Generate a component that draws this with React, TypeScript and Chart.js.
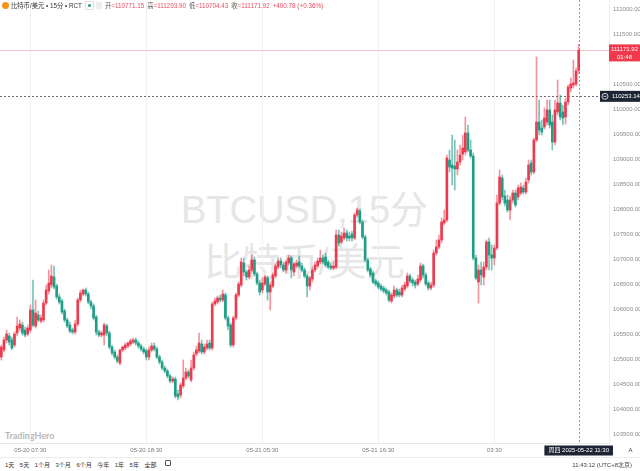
import React, { useEffect, useRef } from "react";
import { Chart, registerables } from "chart.js";

Chart.register(...registerables);

// ---------- data (BTC/USD, 15-minute candles) ----------
const startUtc = Date.UTC(2025, 4, 20, 4, 45); // first candle 05-20 04:45
const stepMinutes = 15;
const emptySlots = 11; // right-side room after last candle

const opens = [
  105040, 105180, 105380, 105460, 105380, 105280, 105520, 105620, 105680, 105580,
  105500, 105580, 105980, 105660, 105880, 105760, 105780, 106120, 106360, 106480,
  106640, 106460, 106240, 106160, 105960, 105780, 105680, 105580, 105540, 105700,
  106180, 106300, 106380, 106300, 106140, 106060, 105840, 105540, 105480, 105480,
  105660, 105520, 105240, 105140, 105040, 104920, 105180, 105220, 105260, 105300,
  105340, 105380, 105320, 105260, 105200, 105160, 105040, 105180, 105260, 105200,
  105040, 104940, 104820, 104760, 104660, 104560, 104600, 104300, 104280, 104460,
  104620, 104740, 104580, 104820, 105100, 105160, 105300, 105140, 105220, 105320,
  105220, 106100, 106140, 106220, 106180, 106280, 105820, 105680, 105280, 105820,
  106280, 106480, 106920, 106740, 106640, 106780, 106980, 106700, 106520, 106380,
  106500, 106620, 106340, 106460, 106660, 106840, 106960, 106880, 106780, 106920,
  107020, 106740, 106860, 106940, 106860, 106780, 106660, 106460, 106600, 106780,
  106860, 106940, 107020, 107040, 106940, 106860, 106820, 106840, 107480, 107340,
  107420, 107520, 107460, 107500, 107420, 107880, 107960, 107740, 107440, 106980,
  106800, 106720, 106560, 106520, 106460, 106420, 106380, 106340, 106160, 106260,
  106380, 106340, 106280, 106400, 106460, 106660, 106580, 106540, 106500, 106580,
  106860, 106680, 106520, 106420, 106480, 107120, 107240, 107380, 107720, 107780,
  108980, 108880, 108860, 108800, 108940, 109100, 109140, 109520, 109180, 109060,
  107020, 106540, 106780, 106640, 106840, 107340, 107080, 107020, 107220, 108120,
  108620, 108260, 108180, 107980, 108180, 108320, 108240, 108320, 108420, 108340,
  108580, 108920, 108740, 109380, 109740, 109620, 109640, 109740, 109980, 109740,
  109340, 109940, 110120, 109940, 109840, 110140, 110420, 110480, 110500, 110771.15,
];

const highs = [
  105280, 105440, 105580, 105520, 105440, 105540, 105840, 105780, 105740, 105640,
  105680, 106080, 106580, 106180, 105960, 105880, 106180, 106480, 106780, 106880,
  106860, 106500, 106300, 106200, 106000, 105820, 105740, 105620, 105780, 106220,
  106380, 106400, 106420, 106340, 106180, 106100, 105880, 105580, 105560, 105720,
  105700, 105560, 105280, 105180, 105080, 105200, 105260, 105320, 105340, 105400,
  105420, 105420, 105360, 105300, 105240, 105200, 105240, 105320, 105320, 105240,
  105080, 104980, 104860, 104800, 104700, 104640, 104640, 104380, 104520, 104980,
  104820, 104780, 104980, 105140, 105260, 105520, 105380, 105300, 105380, 105380,
  106140, 106220, 106260, 106280, 106380, 106320, 105860, 105720, 105860, 106320,
  106540, 107020, 107020, 106780, 106860, 107080, 107040, 106740, 106580, 106620,
  106680, 106660, 106540, 106720, 106900, 107020, 107020, 106940, 106980, 107080,
  107060, 106940, 106980, 107060, 106920, 106820, 106700, 106660, 106840, 106940,
  107020, 107180, 107080, 107120, 106980, 106920, 106940, 107580, 107580, 107540,
  107620, 107580, 107540, 107560, 107920, 108020, 108000, 107780, 107480, 107020,
  106840, 106760, 106600, 106560, 106500, 106460, 106420, 106380, 106320, 106460,
  106420, 106400, 106480, 106540, 106720, 106700, 106620, 106580, 106680, 106920,
  106900, 106720, 106560, 106540, 107180, 107380, 107480, 107820, 107980, 109080,
  109180, 109480, 109380, 109180, 109280, 109480, 109840, 109680, 109380, 109120,
  107080, 106880, 106940, 106940, 107380, 107420, 107280, 107280, 108280, 108780,
  108680, 108380, 108280, 108260, 108380, 108380, 108480, 108520, 108480, 108620,
  108980, 108980, 109420, 111040, 110180, 109780, 110020, 110180, 110180, 109880,
  110180, 110580, 110280, 110080, 110220, 110480, 110620, 110980, 110820, 111293.9,
];

const lows = [
  104980, 105140, 105320, 105280, 105180, 105240, 105460, 105560, 105480, 105440,
  105460, 105540, 105640, 105620, 105740, 105720, 105740, 106080, 106300, 106420,
  106400, 106200, 106100, 105900, 105740, 105620, 105520, 105500, 105500, 105660,
  106140, 106260, 106260, 106100, 106000, 105780, 105480, 105440, 105440, 105280,
  105460, 105200, 105080, 105000, 104920, 104880, 105140, 105180, 105220, 105260,
  105300, 105280, 105220, 105160, 105100, 104980, 104980, 105140, 105160, 105000,
  104900, 104780, 104720, 104620, 104520, 104520, 104220, 104180, 104220, 104420,
  104580, 104620, 104540, 104780, 105060, 105120, 105100, 105100, 105180, 105180,
  105180, 106060, 106100, 106140, 106140, 105780, 105580, 105240, 105240, 105780,
  106240, 106440, 106660, 106580, 106600, 106740, 106660, 106480, 106280, 106320,
  106460, 106180, 105980, 106420, 106620, 106800, 106820, 106740, 106720, 106880,
  106620, 106660, 106820, 106820, 106740, 106620, 106240, 106380, 106540, 106740,
  106820, 106900, 106900, 106840, 106800, 106780, 106780, 106800, 107260, 107300,
  107380, 107360, 107360, 107360, 107380, 107840, 107700, 107400, 106940, 106740,
  106640, 106500, 106460, 106400, 106360, 106320, 106280, 106140, 106120, 106220,
  106240, 106240, 106240, 106360, 106420, 106520, 106460, 106420, 106460, 106540,
  106620, 106460, 106380, 106380, 106440, 107080, 107200, 107320, 107680, 107740,
  108740, 108480, 108380, 108680, 108880, 108980, 109080, 109140, 109020, 106980,
  106580, 106120, 106480, 106480, 106780, 106780, 106780, 106880, 107180, 108080,
  108180, 108060, 107940, 107780, 108120, 108040, 108180, 108280, 108300, 108300,
  108520, 108680, 108700, 109340, 109480, 109480, 109600, 109680, 109620, 109180,
  109280, 109880, 109780, 109680, 109700, 110080, 110340, 110420, 110460, 110704.43,
];

const closes = [
  105240, 105380, 105500, 105340, 105220, 105500, 105660, 105700, 105520, 105480,
  105620, 105980, 105680, 105920, 105780, 105820, 106120, 106380, 106520, 106660,
  106440, 106240, 106140, 105940, 105780, 105660, 105560, 105540, 105700, 106180,
  106320, 106380, 106300, 106140, 106060, 105820, 105540, 105480, 105520, 105680,
  105520, 105240, 105120, 105040, 104960, 105180, 105240, 105280, 105320, 105360,
  105380, 105320, 105260, 105200, 105140, 105040, 105180, 105260, 105200, 105040,
  104940, 104820, 104760, 104660, 104560, 104600, 104260, 104240, 104480, 104620,
  104740, 104660, 104820, 105080, 105180, 105320, 105140, 105240, 105300, 105220,
  106100, 106160, 106220, 106180, 106300, 105820, 105660, 105280, 105820, 106280,
  106500, 106940, 106740, 106640, 106780, 106980, 106700, 106520, 106340, 106520,
  106640, 106340, 106480, 106680, 106860, 106960, 106880, 106780, 106940, 107020,
  106780, 106900, 106920, 106860, 106780, 106660, 106460, 106620, 106780, 106880,
  106960, 107020, 106940, 106880, 106840, 106820, 106860, 107480, 107320, 107460,
  107520, 107420, 107420, 107420, 107880, 107980, 107740, 107440, 106980, 106780,
  106680, 106540, 106500, 106440, 106400, 106360, 106320, 106180, 106280, 106380,
  106280, 106280, 106420, 106480, 106660, 106560, 106520, 106480, 106600, 106860,
  106680, 106500, 106420, 106480, 107120, 107240, 107380, 107740, 107780, 109020,
  108840, 108820, 108800, 108940, 109080, 109220, 109520, 109180, 109060, 107020,
  106620, 106780, 106680, 106840, 107340, 107080, 107020, 107220, 108120, 108640,
  108240, 108120, 107980, 108180, 108320, 108080, 108420, 108440, 108340, 108540,
  108880, 108740, 109380, 109740, 109580, 109540, 109820, 109980, 109680, 109340,
  109980, 110120, 109840, 109820, 110140, 110440, 110500, 110520, 110760, 111171.92,
];

// axis and reference values
const yMin = 103320;
const yMax = 112180;
const yTicks = [
  103500, 104000, 104500, 105000, 105500, 106000, 106500, 107000, 107500,
  108000, 108500, 109000, 109500, 110000, 110500, 111000, 111500, 112000,
];
const refPrice = 110253.14;
const xTickTimes = ["05-20 07:30", "05-20 18:30", "05-21 05:30", "05-21 16:30", "05-22 03:30"];
const xTickLabels = ["05-20 07:30", "05-20 18:30", "05-21 05:30", "05-21 16:30", "03:30"];
const countdownText = "01:48";
const crosshairDateText = "周四 2025-05-22 11:30";

const headerTitle = "比特币/美元 • 15分 • RCT";
const ohlcLabels = ["开", "高", "低", "收"];
const changeText = "+400.78 (+0.36%)";
const rangeButtons = ["1天", "5天", "1个月", "3个月", "6个月", "今年", "1年", "5年", "全部"];
const clockText = "11:43:12 (UTC+8北京)";

const UP = "#ec3b4f";
const DOWN = "#1f9d86";
const UP_WICK = "rgba(236,59,79,0.55)";
const DOWN_WICK = "rgba(31,157,134,0.6)";
const FONT = "'Liberation Sans', 'Noto Sans CJK SC', Arial, sans-serif";

function pad(n: number) {
  return n < 10 ? "0" + n : "" + n;
}
function fmtTime(ms: number) {
  const d = new Date(ms);
  return `${pad(d.getUTCMonth() + 1)}-${pad(d.getUTCDate())} ${pad(d.getUTCHours())}:${pad(d.getUTCMinutes())}`;
}

export default function App() {
  const canvasRef = useRef<HTMLCanvasElement | null>(null);

  useEffect(() => {
    const canvas = canvasRef.current;
    if (!canvas) return;
    const n = closes.length;
    const total = n + emptySlots;
    const labels: string[] = [];
    for (let i = 0; i < total; i++) labels.push(fmtTime(startUtc + i * stepMinutes * 60000));
    const tickIdx = xTickTimes.map((t) => labels.indexOf(t));

    const bodyData: any[] = [];
    const wickData: any[] = [];
    const bodyColors: string[] = [];
    const wickColors: string[] = [];
    for (let i = 0; i < total; i++) {
      if (i < n) {
        bodyData.push([opens[i], closes[i]]);
        wickData.push([lows[i], highs[i]]);
        const up = closes[i] >= opens[i];
        bodyColors.push(up ? UP : DOWN);
        wickColors.push(up ? UP_WICK : DOWN_WICK);
      } else {
        bodyData.push(null);
        wickData.push(null);
        bodyColors.push(UP);
        wickColors.push(UP_WICK);
      }
    }
    const lastIdx = n - 1;
    const lastClose = closes[lastIdx];

    const overlay = {
      id: "overlay",
      beforeDatasetsDraw(chart: any) {
        const { ctx, chartArea, scales } = chart;
        const y = scales.y;
        const x = scales.x;
        ctx.save();
        // current price line
        const py = Math.round(y.getPixelForValue(lastClose)) + 0.5;
        ctx.strokeStyle = "#f3c3c8";
        ctx.lineWidth = 1;
        ctx.beginPath();
        ctx.moveTo(chartArea.left, py);
        ctx.lineTo(chartArea.right, py);
        ctx.stroke();
        // reference dashed line
        const ry = Math.round(y.getPixelForValue(refPrice)) + 0.5;
        ctx.strokeStyle = "#6b6b6b";
        ctx.setLineDash([2, 2]);
        ctx.beginPath();
        ctx.moveTo(chartArea.left, ry);
        ctx.lineTo(chartArea.right, ry);
        ctx.stroke();
        // vertical crosshair
        const cx = Math.round(x.getPixelForValue(lastIdx)) + 0.5;
        ctx.strokeStyle = "#9a9a9a";
        ctx.beginPath();
        ctx.moveTo(cx, chartArea.top);
        ctx.lineTo(cx, chartArea.bottom);
        ctx.stroke();
        ctx.restore();
      },
      afterDraw(chart: any) {
        const { ctx, chartArea, scales, width } = chart;
        const y = scales.y;
        const x = scales.x;
        ctx.save();
        ctx.font = `6px ${FONT}`;
        ctx.textBaseline = "middle";
        // red last-price tag
        const py = y.getPixelForValue(lastClose);
        ctx.fillStyle = "#f0394d";
        ctx.fillRect(chartArea.right, py - 6, width - chartArea.right, 17);
        ctx.fillStyle = "#ffffff";
        ctx.textAlign = "center";
        const tagCx = (chartArea.right + width) / 2;
        ctx.fillText(lastClose.toFixed(2), tagCx, py - 1);
        ctx.fillText(countdownText, tagCx, py + 7);
        // dark reference tag
        const ry = y.getPixelForValue(refPrice);
        ctx.fillStyle = "#1d2535";
        ctx.fillRect(chartArea.right - 9, ry - 5.5, width - chartArea.right + 9, 11);
        ctx.strokeStyle = "#ffffff";
        ctx.lineWidth = 0.8;
        ctx.beginPath();
        ctx.arc(chartArea.right - 4, ry, 3, 0, Math.PI * 2);
        ctx.stroke();
        ctx.beginPath();
        ctx.moveTo(chartArea.right - 5.5, ry);
        ctx.lineTo(chartArea.right - 2.5, ry);
        ctx.stroke();
        ctx.fillStyle = "#ffffff";
        ctx.textAlign = "left";
        ctx.fillText(refPrice.toFixed(2), chartArea.right + 3, ry + 0.5);
        // crosshair date tag on x axis
        const cx = x.getPixelForValue(lastIdx);
        const tw = ctx.measureText(crosshairDateText).width + 8;
        ctx.fillStyle = "#1d2535";
        ctx.fillRect(cx - tw / 2, chartArea.bottom + 2.5, tw, 10);
        ctx.fillStyle = "#ffffff";
        ctx.textAlign = "center";
        ctx.fillText(crosshairDateText, cx, chartArea.bottom + 7.8);
        ctx.restore();
      },
    };

    Chart.defaults.font.family = FONT;
    const chart = new Chart(canvas, {
      type: "bar",
      data: {
        labels,
        datasets: [
          {
            data: bodyData,
            backgroundColor: bodyColors,
            barThickness: 2,
            minBarLength: 1,
            grouped: false,
            order: 1,
          } as any,
          {
            data: wickData,
            backgroundColor: wickColors,
            barThickness: 1,
            grouped: false,
            order: 2,
          } as any,
        ],
      },
      options: {
        animation: false,
        responsive: false,
        devicePixelRatio: 1,
        events: [],
        layout: { padding: 0 },
        plugins: { legend: { display: false }, tooltip: { enabled: false } },
        scales: {
          x: {
            type: "category",
            offset: true,
            grid: {
              offset: false,
              drawTicks: false,
              color: (c: any) => (tickIdx.includes(c.index) ? "#f1f1f1" : "rgba(0,0,0,0)"),
            },
            border: { display: true, color: "#e8e8e8" },
            ticks: {
              autoSkip: false,
              maxRotation: 0,
              minRotation: 0,
              padding: 4,
              color: "#7a7a7a",
              font: { size: 6 },
              callback: (_v: any, i: number) => {
                const k = tickIdx.indexOf(i);
                return k >= 0 ? xTickLabels[k] : "";
              },
            },
            afterFit: (s: any) => {
              s.height = 14;
              s.paddingLeft = 0;
              s.paddingRight = 0;
            },
          },
          y: {
            position: "right",
            min: yMin,
            max: yMax,
            grid: { display: false, drawTicks: false },
            border: { display: true, color: "#eeeeee" },
            afterBuildTicks: (s: any) => {
              s.ticks = yTicks.map((v) => ({ value: v }));
            },
            ticks: {
              padding: 4,
              color: "#8a8a8a",
              font: { size: 6 },
              callback: (v: any) => Number(v).toFixed(2),
            },
            afterFit: (s: any) => {
              s.width = 31;
              s.paddingTop = 0;
              s.paddingBottom = 0;
            },
          },
        },
      } as any,
      plugins: [overlay],
    });
    return () => chart.destroy();
  }, []);

  const lastIdx = closes.length - 1;
  const ohlcValues = [opens[lastIdx], highs[lastIdx], lows[lastIdx], closes[lastIdx]];

  return (
    <div
      style={{
        position: "fixed",
        left: 0,
        top: 0,
        width: 640,
        height: 471,
        background: "#ffffff",
        overflow: "hidden",
        fontFamily: FONT,
      }}
    >
      {/* watermark */}
      <div
        style={{
          position: "absolute",
          left: 0,
          top: 184,
          width: 609,
          textAlign: "center",
          color: "#e6e6e6",
          fontSize: 38,
          lineHeight: "52px",
          whiteSpace: "nowrap",
        }}
      >
        <div>BTCUSD,15分</div>
        <div>比特币/美元</div>
      </div>
      {/* TradingHero logo */}
      <div
        style={{
          position: "absolute",
          left: 5,
          top: 430,
          fontSize: 9,
          fontWeight: 700,
          color: "#b8b8b8",
          fontFamily: "Lato, 'Open Sans', sans-serif",
        }}
      >
        TradingHero
      </div>
      <canvas ref={canvasRef} width={640} height={457} style={{ position: "absolute", left: 0, top: 0, width: 640, height: 457 }} />
      {/* header */}
      <div
        style={{
          position: "absolute",
          left: 2,
          top: 1,
          height: 9,
          display: "flex",
          alignItems: "center",
          fontSize: 6.3,
          whiteSpace: "nowrap",
        }}
      >
        <span
          style={{
            display: "inline-block",
            width: 7,
            height: 7,
            borderRadius: "50%",
            background: "#f7931a",
            marginRight: 2,
          }}
        />
        <span style={{ color: "#333" }}>{headerTitle}</span>
        <span
          style={{
            display: "inline-flex",
            alignItems: "center",
            justifyContent: "center",
            width: 7,
            height: 7,
            marginLeft: 3,
            border: "1px solid #e0e0e0",
            borderRadius: 1,
          }}
        >
          <span style={{ width: 3, height: 3, borderRadius: "50%", background: "#1f9d86" }} />
        </span>
        <span
          style={{
            display: "inline-block",
            width: 6,
            height: 7,
            marginLeft: 2,
            background: "#eeeeee",
            borderRadius: 1,
          }}
        />
        <span style={{ marginLeft: 3, color: "#ef4b5e" }}>
          {ohlcLabels.map((l, i) => (
            <span key={l} style={{ marginRight: 3 }}>
              <span style={{ color: "#555" }}>{l}</span>={ohlcValues[i].toFixed(2)}
            </span>
          ))}
          {changeText}
        </span>
      </div>
      {/* bottom toolbar */}
      <div
        style={{
          position: "absolute",
          left: 0,
          top: 457,
          width: 640,
          height: 14,
          borderTop: "1px solid #ececec",
          boxSizing: "border-box",
          display: "flex",
          alignItems: "center",
          fontSize: 6,
          color: "#333",
        }}
      >
        <div style={{ display: "flex", marginLeft: 5 }}>
          {rangeButtons.map((b) => (
            <span key={b} style={{ marginRight: 5.5 }}>
              {b}
            </span>
          ))}
          <span
            style={{
              display: "inline-block",
              width: 6,
              height: 6,
              border: "1px solid #555",
              borderRadius: 1,
              marginLeft: 3,
              boxSizing: "border-box",
            }}
          />
        </div>
        <div style={{ position: "absolute", right: 8, color: "#444" }}>{clockText}</div>
      </div>
      {/* auto-scale button */}
      <div
        style={{
          position: "absolute",
          left: 626,
          top: 446,
          width: 9,
          height: 9,
          fontSize: 6,
          color: "#444",
          textAlign: "center",
          lineHeight: "9px",
        }}
      >
        A
      </div>
    </div>
  );
}
